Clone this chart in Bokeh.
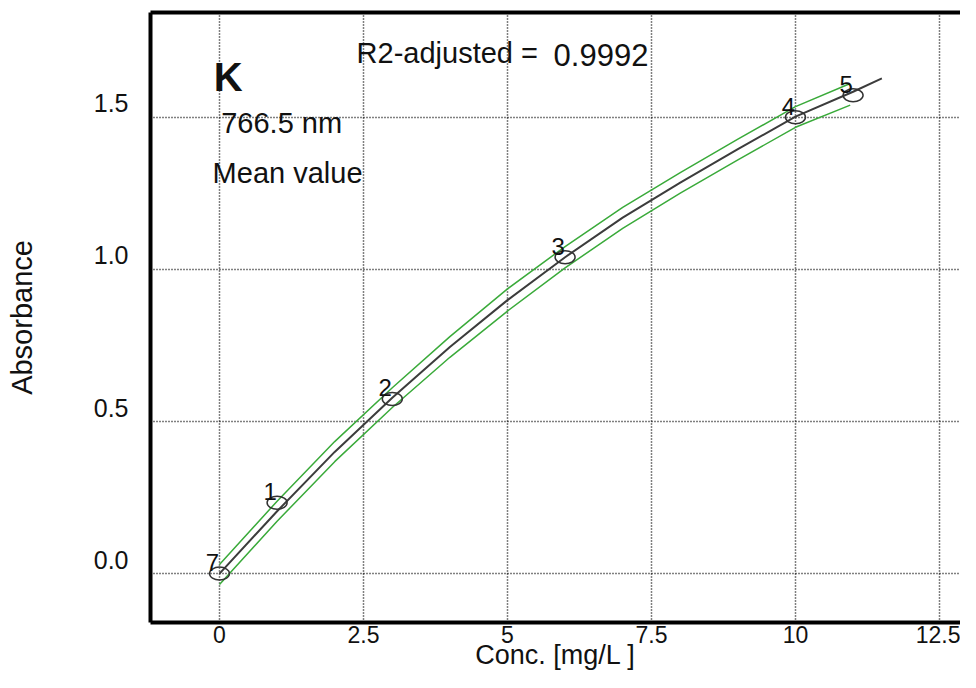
from bokeh.plotting import figure
from bokeh.models import Range1d, LinearAxis, FixedTicker, NumeralTickFormatter, Label, Grid
from bokeh.embed import file_html
from bokeh.resources import INLINE
from bokeh.core.properties import value

# ---- data ----
conc = [0, 1, 3, 6, 10, 11]
absorbance = [0.0, 0.233, 0.574, 1.040, 1.500, 1.572]
point_ids = ["7", "1", "2", "3", "4", "5"]

fit_conc = [0, 1, 2, 3, 4, 5, 6, 7, 8, 9, 10, 11, 11.5]
fit_abs = [0.0, 0.205, 0.400, 0.578, 0.745, 0.899, 1.040, 1.170, 1.285, 1.395, 1.502, 1.584, 1.628]

band_conc = [0, 1, 2, 3, 4, 5, 6, 7, 8, 9, 10, 10.95]
band_upper = [0.030, 0.238, 0.434, 0.611, 0.779, 0.936, 1.075, 1.204, 1.318, 1.428, 1.535, 1.611]
band_lower = [-0.036, 0.172, 0.368, 0.546, 0.711, 0.863, 1.005, 1.135, 1.251, 1.360, 1.467, 1.540]

x_ticks = [0, 2.5, 5, 7.5, 10, 12.5]
y_ticks = [0.0, 0.5, 1.0, 1.5]

element = "K"
wavelength = "766.5 nm"
mode = "Mean value"
r2_text = "R2-adjusted ="
r2_value = "0.9992"
x_title = "Conc. [mg/L ]"
y_title = "Absorbance"

FONT = "Liberation Sans"
TXT = "#111111"
X0, X1 = -1.198, 12.865
Y0, Y1 = -0.1607, 1.8444
LBL_SHIFT = 0.046

p = figure(width=960, height=672, x_range=Range1d(X0, X1), y_range=Range1d(Y0, Y1),
           x_axis_location=None, y_axis_location=None, toolbar_location=None,
           output_backend="svg", min_border_left=150, min_border_right=0,
           min_border_top=12, min_border_bottom=49)
p.extra_y_ranges = {"lbl": Range1d(Y0 - LBL_SHIFT, Y1 - LBL_SHIFT)}
p.outline_line_color = None
p.background_fill_color = "white"
p.border_fill_color = "white"

for g in list(p.grid):
    g.visible = False

gx = Grid(dimension=0, ticker=FixedTicker(ticks=x_ticks))
gy = Grid(dimension=1, ticker=FixedTicker(ticks=y_ticks))
for g in (gx, gy):
    g.grid_line_color = "black"
    g.grid_line_dash = "1 2"
    g.grid_line_width = 1.5
    p.add_layout(g, "center")


def style_axis(ax):
    ax.axis_line_color = "black"
    ax.axis_line_width = 4
    ax.major_tick_out = 0
    ax.major_tick_in = 0
    ax.minor_tick_out = 0
    ax.minor_tick_in = 0
    ax.major_label_text_font = FONT
    ax.major_label_text_color = TXT
    ax.axis_label_text_font = FONT
    ax.axis_label_text_font_style = "normal"
    ax.axis_label_text_color = TXT


xax = LinearAxis(ticker=FixedTicker(ticks=x_ticks), axis_label=x_title)
style_axis(xax)
xax.major_label_text_font_size = "23px"
xax.major_label_standoff = 3
xax.axis_label_text_font_size = "27px"
xax.axis_label_standoff = -6
p.add_layout(xax, "below")

yax = LinearAxis(y_range_name="lbl", ticker=FixedTicker(ticks=y_ticks),
                 formatter=NumeralTickFormatter(format="0.0"), axis_label=y_title)
style_axis(yax)
yax.major_label_text_font_size = "25px"
yax.major_label_standoff = 22
yax.axis_label_text_font_size = "29px"
yax.axis_label_standoff = 53
p.add_layout(yax, "left")

tax = LinearAxis(ticker=FixedTicker(ticks=[]))
style_axis(tax)
tax.major_label_text_font_size = "0px"
tax.major_label_standoff = 0
p.add_layout(tax, "above")

# confidence band, fit curve, standards
p.line(band_conc, band_upper, line_color="#3aaa3a", line_width=1.5)
p.line(band_conc, band_lower, line_color="#3aaa3a", line_width=1.5)
p.line(fit_conc, fit_abs, line_color="#3c3c3c", line_width=2)
p.ellipse(x=conc, y=absorbance, width=20, height=13, width_units="screen",
          height_units="screen", fill_color=None, line_color="#333333", line_width=1.5)
p.text(x=conc, y=absorbance, text=point_ids, x_offset=-7, y_offset=-11,
       text_align="center", text_baseline="middle", text_font=value(FONT),
       text_font_size="24px", text_color=TXT)

p.add_layout(Label(x=-0.10, y=1.634, text=element, text_font=FONT, text_font_size="40px",
                   text_font_style="bold", text_color=TXT, text_baseline="alphabetic"))
p.add_layout(Label(x=0.03, y=1.480, text=wavelength, text_font=FONT, text_font_size="29px",
                   text_color=TXT, text_baseline="alphabetic"))
p.add_layout(Label(x=-0.12, y=1.316, text=mode, text_font=FONT, text_font_size="29px",
                   text_color=TXT, text_baseline="alphabetic"))
p.add_layout(Label(x=2.38, y=1.710, text=r2_text, text_font=FONT, text_font_size="29px",
                   text_color=TXT, text_baseline="alphabetic"))
p.add_layout(Label(x=5.80, y=1.706, text=r2_value, text_font=FONT, text_font_size="31px",
                   text_color=TXT, text_baseline="alphabetic"))

open("out.html", "w").write(file_html(p, INLINE))
